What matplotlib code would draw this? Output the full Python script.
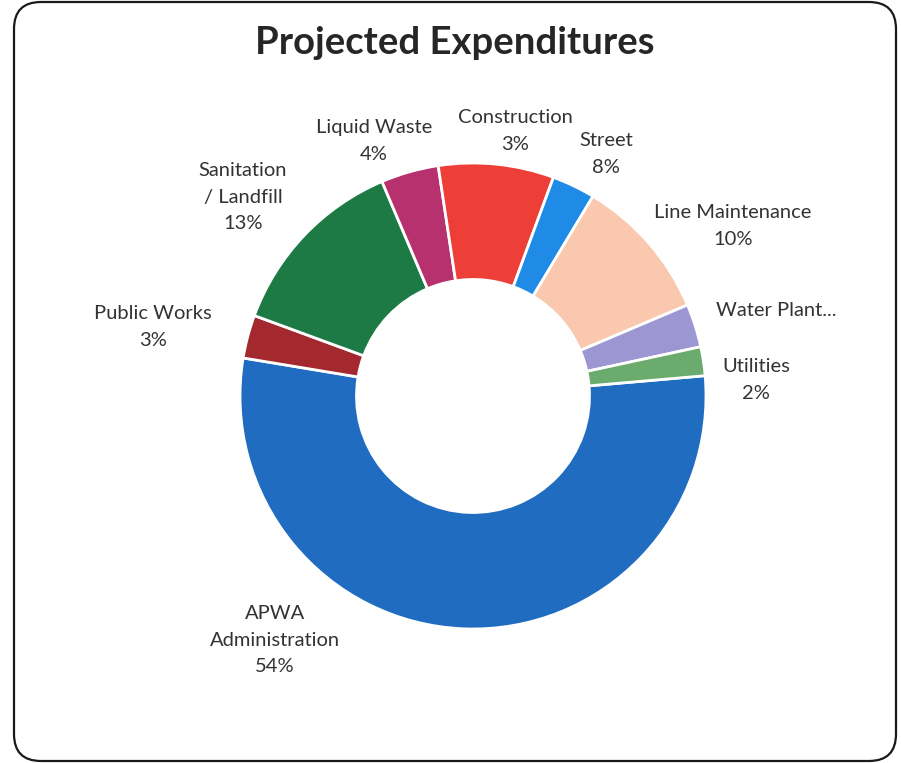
import matplotlib.pyplot as plt
from matplotlib.patches import FancyBboxPatch

# Expenditure shares, in clockwise drawing order starting at APWA
categories = ["APWA\nAdministration", "Public Works", "Sanitation\n/ Landfill",
              "Liquid Waste", "Street", "Construction", "Line Maintenance",
              "Water Plant...", "Utilities"]
shares = [54, 3, 13, 4, 8, 3, 10, 3, 2]
colors = ["#1f6cc0", "#a3292f", "#1e7a45", "#b8316f", "#ee3e38",
          "#1f8be6", "#f9c8ae", "#9c97d3", "#6bab6e"]
show_pct = [True, True, True, True, True, True, True, False, True]

# label anchors in pixels (x, y from top) for a 901x763 canvas
label_pos = [(275, 640), (153, 327), (243, 197), (374, 141), (606, 154),
             (515, 131), (733, 226), (776, 310), (756, 380)]

W, H = 901, 763
plt.rcParams["font.family"] = ["Lato", "DejaVu Sans"]
fig = plt.figure(figsize=(W / 100, H / 100), dpi=100)
fig.patch.set_facecolor("white")

# rounded chart frame
frame = FancyBboxPatch((14 / W, 2 / H), 882 / W, 759 / H,
                       boxstyle="round,pad=0,rounding_size=0.03",
                       transform=fig.transFigure, facecolor="none",
                       edgecolor="#1a1a1a", linewidth=1.6, mutation_aspect=W / H)
fig.patches.append(frame)

cx, cy, r = 473, 396, 233
ax = fig.add_axes([(cx - r) / W, (H - cy - r) / H, 2 * r / W, 2 * r / H])
ax.pie(shares, colors=colors, startangle=5, counterclock=False, radius=1,
       wedgeprops=dict(width=0.5, edgecolor="white", linewidth=2))
ax.set_xlim(-1.0, 1.0)
ax.set_ylim(-1.0, 1.0)
ax.set_aspect("equal")
ax.axis("off")

fig.text(455 / W, 1 - 43 / H, "Projected Expenditures", ha="center",
         va="center", fontsize=27.5, fontweight="bold", color="#262626")

for name, val, pct, (x, y) in zip(categories, shares, show_pct, label_pos):
    txt = f"{name}\n{val}%" if pct else name
    fig.text(x / W, 1 - y / H, txt, ha="center", va="center", fontsize=14.5,
             color="#333333", linespacing=1.65)

fig.savefig("out.png", dpi=100)
